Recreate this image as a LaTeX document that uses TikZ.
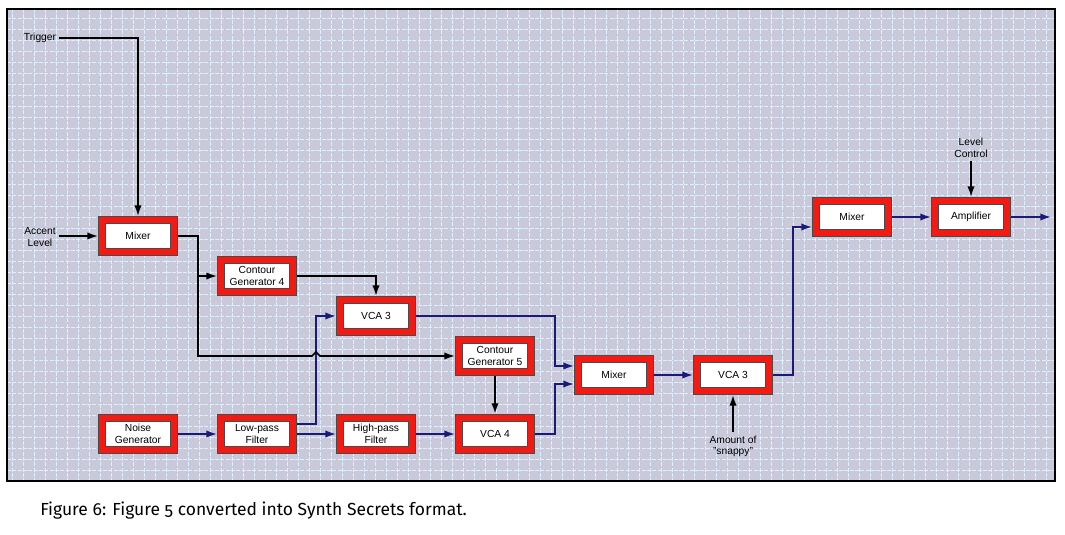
\documentclass[tikz,border=0pt]{standalone}
\usepackage{fontspec}
\setmainfont{Liberation Sans}
\newfontfamily\capfont[Numbers=OldStyle]{Fira Sans}
\usetikzlibrary{arrows.meta,positioning,calc}
\definecolor{bgrey}{HTML}{C9C9DA}
\definecolor{gridln}{HTML}{DDF0FF}
\definecolor{navy}{HTML}{1A1A78}
\definecolor{synred}{HTML}{F21A12}
\definecolor{dkgray}{HTML}{4A4A4A}
\tikzset{
  mod/.style={rectangle,draw=dkgray,line width=0.6pt,double=synred,
              double distance=4.5pt,fill=white,
              minimum width=54.3pt,minimum height=24.3pt,outer sep=2.85pt,
              font=\fontsize{7.7}{8.8}\selectfont,align=center,inner sep=1pt},
  lbl/.style={font=\fontsize{7.7}{8.8}\selectfont,align=center,inner sep=1pt,
              outer sep=1.5pt},
  arr/.style={-{Latex[length=8pt,width=5.5pt]},line width=1.2pt,color=black},
  narr/.style={-{Latex[length=8pt,width=5.5pt]},line width=1.2pt,color=navy},
  gridline/.style={gridln,line width=0.75pt,dash pattern=on 3pt off 1pt},
}

\begin{document}
\begin{tikzpicture}[x=0.75pt,y=0.75pt]

  \useasboundingbox (0,0) rectangle (1065,-535);

  %% ── panel ────────────────────────────────────────────────────────────────
  \fill[bgrey] (7,-9) rectangle (1055,-481);
  \begin{scope}
    \clip (7,-9) rectangle (1055,-481);
    \foreach \gx in {12,23,...,1054} \draw[gridline] (\gx,-9) -- (\gx,-481);
    \foreach \gy in {19,30,...,470} \draw[gridline] (7,-\gy) -- (1055,-\gy);
  \end{scope}
  \draw[line width=1.1pt] (7,-9) rectangle (1055,-481);

  %% ── modules ──────────────────────────────────────────────────────────────
  \node[mod] (mixA) at (138,-236) {Mixer};
  \node[mod,below right=0pt and 29.25pt of mixA] (cgA)  {Contour\\Generator 4};
  \node[mod,below right=0pt and 29.25pt of cgA]  (vcaA) {VCA 3};
  \node[mod,below right=0pt and 29.25pt of vcaA] (cgB)  {Contour\\Generator 5};
  \node[mod,below=118.5pt of mixA]  (noise) {Noise\\Generator};
  \node[mod,right=29.25pt of noise] (lpf)   {Low-pass\\Filter};
  \node[mod,right=29.25pt of lpf]   (hpf)   {High-pass\\Filter};
  \node[mod,right=29.25pt of hpf]   (vcaB)  {VCA 4};
  \node[mod,right=29.25pt of cgB,yshift=-14.25pt] (mixB) {Mixer};
  \node[mod,right=29.25pt of mixB]  (vcaC)  {VCA 3};
  \node[mod,above right=88.5pt and 29.25pt of vcaC] (mixC) {Mixer};
  \node[mod,right=29.25pt of mixC]  (amp)   {Amplifier};

  %% ── control inputs ───────────────────────────────────────────────────────
  \node[lbl] (trig) at (40,-38)  {Trigger};
  \node[lbl] (acc)  at (40,-237) {Accent\\Level};
  \node[lbl,above=27pt of amp]  (lvl)  {Level\\Control};
  \node[lbl,below=28pt of vcaC] (snap) {Amount of\\"snappy"};
  \coordinate[right=30pt of amp] (out);

  %% ── control wiring ───────────────────────────────────────────────────────
  \draw[arr] (trig) -| (mixA);
  \draw[arr] (acc.east |- mixA) -- (mixA);
  \draw[arr] (mixA.east) -- ++(20,0) coordinate (jA) |- (cgA);
  \draw[arr] (cgA) -| (vcaA);
  \draw[narr] ([yshift=7.5pt]lpf.east) -- ++(19,0) coordinate (jB) |- (vcaA);
  \draw[arr] (jA) |- ($(jB |- cgB)+(-4,0)$) -- ++(4,4) -- ++(4,-4) -- (cgB);
  \draw[arr,line width=2pt] (cgB) -- (vcaB);
  \draw[arr] (snap) -- (vcaC);
  \draw[arr] (lvl) -- (amp);

  %% ── audio path ───────────────────────────────────────────────────────────
  \draw[narr] (noise) -- (lpf);
  \draw[narr] (lpf)   -- (hpf);
  \draw[narr] (hpf)   -- (vcaB);
  \draw[narr] (vcaA) -| ($(mixB.west)+(-19,9)$)  -- ($(mixB.west)+(0,9)$);
  \draw[narr] (vcaB) -| ($(mixB.west)+(-19,-9)$) -- ($(mixB.west)+(0,-9)$);
  \draw[narr] (mixB) -- (vcaC);
  \draw[narr] (vcaC) -| ($(mixC.west)+(-19,-10)$) -- ($(mixC.west)+(0,-10)$);
  \draw[narr] (mixC) -- (amp);
  \draw[narr] (amp)  -- (out);

  %% ── caption ──────────────────────────────────────────────────────────────
  \node[anchor=west,inner sep=0pt,font=\capfont\fontsize{13.1}{15}\selectfont]
       (cap) at (40,-511) {Figure 6: Figure 5 converted into Synth Secrets format.};

\end{tikzpicture}
\end{document}
